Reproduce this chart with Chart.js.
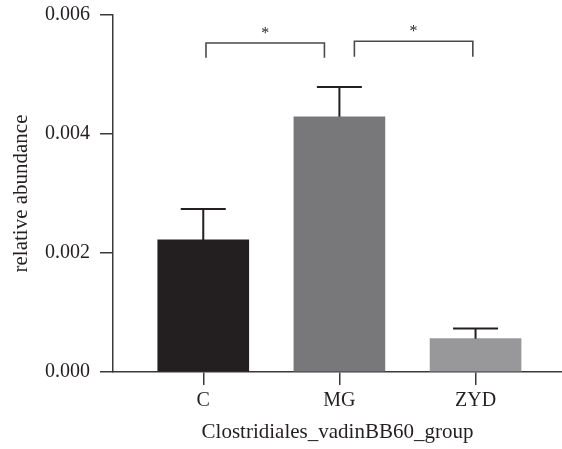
<!DOCTYPE html>
<html>
<head>
<meta charset="utf-8">
<script src="https://cdn.jsdelivr.net/npm/chart.js@4.4.0/dist/chart.umd.min.js"></script>
<style>
  html, body { margin: 0; padding: 0; background: #fff; }
  #wrap { width: 562px; height: 449px; }
</style>
</head>
<body>
<div id="wrap"><canvas id="abundance-chart" width="562" height="449"></canvas></div>
<script>
const groups = ['C', 'MG', 'ZYD'];
const meanValues = [0.00222, 0.00429, 0.00056];
const errorValues = [0.00052, 0.00050, 0.00017];
const yTicks = [0, 0.002, 0.004, 0.006];
// significance brackets: x span in group units, top and leg end in y units
const bracketFrom = [0.02, 1.11];
const bracketTo = [0.89, 1.98];
const bracketTop = [0.00553, 0.00556];
const bracketLeg = [0.00528, 0.00530];
const bracketLabels = ['*', '*'];

const barColors = ['#231f20', '#78787b', '#98989b'];
const axisColor = '#3a3a3a';
const textColor = '#231f20';
const serif = '"Liberation Serif", "Times New Roman", serif';

const errorBarsPlugin = {
  id: 'errorBars',
  afterDatasetsDraw(chart) {
    const { ctx, scales: { x, y } } = chart;
    ctx.save();
    ctx.strokeStyle = '#231f20';
    ctx.lineWidth = 2;
    meanValues.forEach((v, i) => {
      const cx = x.getPixelForValue(i);
      const top = y.getPixelForValue(v + errorValues[i]);
      const base = y.getPixelForValue(v);
      ctx.beginPath();
      ctx.moveTo(cx, base);
      ctx.lineTo(cx, top);
      ctx.moveTo(cx - 22.5, top);
      ctx.lineTo(cx + 22.5, top);
      ctx.stroke();
    });

    ctx.strokeStyle = '#4a4a4a';
    ctx.lineWidth = 1.6;
    ctx.fillStyle = textColor;
    ctx.font = '16px ' + serif;
    ctx.textAlign = 'center';
    ctx.textBaseline = 'middle';
    bracketFrom.forEach((f, i) => {
      const x1 = x.getPixelForValue(f);
      const x2 = x.getPixelForValue(bracketTo[i]);
      const yt = y.getPixelForValue(bracketTop[i]);
      const yl = y.getPixelForValue(bracketLeg[i]);
      ctx.beginPath();
      ctx.moveTo(x1, yl);
      ctx.lineTo(x1, yt);
      ctx.lineTo(x2, yt);
      ctx.lineTo(x2, yl);
      ctx.stroke();
      ctx.fillText(bracketLabels[i], (x1 + x2) / 2, yt - 9);
    });
    ctx.restore();
  }
};

const chart = new Chart(document.getElementById('abundance-chart').getContext('2d'), {
  type: 'bar',
  data: {
    datasets: [{
      data: meanValues.map((v, i) => ({ x: i, y: v })),
      backgroundColor: barColors,
      borderWidth: 0,
      barThickness: 91
    }]
  },
  options: {
    responsive: false,
    animation: false,
    layout: { padding: { top: 15, right: 0, left: 0, bottom: 0 } },
    plugins: {
      legend: { display: false },
      tooltip: { enabled: false }
    },
    scales: {
      x: {
        type: 'linear',
        offset: false,
        min: -0.663,
        max: 2.635,
        afterBuildTicks: s => { s.ticks = groups.map((g, i) => ({ value: i })); },
        afterFit: s => { s.height = 77; s.paddingLeft = 0; s.paddingRight = 0; },
        ticks: {
          callback: v => groups[v],
          color: textColor,
          font: { family: serif, size: 20 },
          padding: 4,
          maxRotation: 0
        },
        grid: { offset: false, drawOnChartArea: false, tickLength: 13, color: axisColor, lineWidth: 1.5 },
        border: { color: axisColor, width: 1.5 },
        title: {
          display: true,
          text: 'Clostridiales_vadinBB60_group',
          color: textColor,
          font: { family: serif, size: 21 },
          padding: { top: 0, bottom: 4 }
        }
      },
      y: {
        min: 0,
        max: 0.006,
        afterBuildTicks: s => { s.ticks = yTicks.map(v => ({ value: v })); },
        afterFit: s => { s.width = 113; s.paddingTop = 0; s.paddingBottom = 0; },
        ticks: {
          callback: v => v.toFixed(3),
          color: textColor,
          font: { family: serif, size: 20 },
          padding: 10
        },
        grid: { drawOnChartArea: false, tickLength: 13, color: axisColor, lineWidth: 1.5 },
        border: { color: axisColor, width: 1.5 },
        title: {
          display: true,
          text: 'relative abundance',
          color: textColor,
          font: { family: serif, size: 21 },
          padding: { top: 9, bottom: 0 }
        }
      }
    }
  },
  plugins: [errorBarsPlugin]
});
</script>
</body>
</html>
